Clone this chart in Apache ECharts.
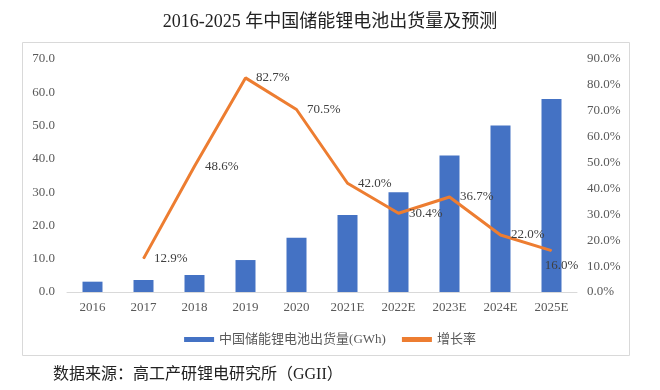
<!DOCTYPE html>
<html>
<head>
<meta charset="utf-8">
<script src="https://cdn.jsdelivr.net/npm/echarts@6/dist/echarts.min.js"></script>
<style>html,body{margin:0;padding:0;background:#fff}#c{width:660px;height:390px}</style>
</head>
<body>
<div id="c"></div>
<script>
const categories = ['2016','2017','2018','2019','2020','2021E','2022E','2023E','2024E','2025E'];
const shipments = [3.1, 3.6, 5.1, 9.6, 16.3, 23.1, 30.0, 41.0, 50.0, 58.0];
const growth = [null, 12.9, 48.6, 82.7, 70.5, 42.0, 30.4, 36.7, 22.0, 16.0];
const barName = '中国储能锂电池出货量(GWh)';
const lineName = '增长率';
const titleText = '2016-2025 年中国储能锂电池出货量及预测';
const sourceText = '数据来源：高工产研锂电研究所（GGII）';

const serif = "'Liberation Serif','Noto Sans CJK SC',serif";
const chart = echarts.init(document.getElementById('c'));
chart.setOption({
  animation: false,
  backgroundColor: '#fff',
  title: {
    text: titleText, left: 'center', top: 8,
    textStyle: {fontFamily: serif, fontSize: 18, fontWeight: 'normal', color: '#222'}
  },
  graphic: [
    {type: 'rect', shape: {x: 22.5, y: 42.5, width: 607, height: 313},
     style: {fill: 'none', stroke: '#d9d9d9', lineWidth: 1}, z: -1},
    {type: 'text', left: 53, top: 367,
     style: {text: sourceText, font: "16px 'Liberation Serif','Noto Sans CJK SC',serif", fill: '#222'}}
  ],
  legend: {
    top: 328, left: 'center', itemWidth: 30, itemHeight: 5, itemGap: 16,
    textStyle: {fontFamily: serif, fontSize: 13, color: '#595959'},
    data: [{name: barName, icon: 'rect'}, {name: lineName, icon: 'rect'}]
  },
  grid: {left: 67, right: 83, top: 59, bottom: 98},
  xAxis: {
    type: 'category', data: categories,
    axisLine: {lineStyle: {color: '#d9d9d9'}},
    axisTick: {show: false},
    axisLabel: {fontFamily: serif, fontSize: 13, color: '#595959', margin: 9}
  },
  yAxis: [
    {type: 'value', min: 0, max: 70, interval: 10, splitLine: {show: false},
     axisLabel: {fontFamily: serif, fontSize: 13, color: '#595959', margin: 12,
       formatter: v => v.toFixed(1)}},
    {type: 'value', min: 0, max: 90, interval: 10, splitLine: {show: false},
     axisLabel: {fontFamily: serif, fontSize: 13, color: '#595959', margin: 10,
       formatter: v => v.toFixed(1) + '%'}}
  ],
  series: [
    {name: barName, type: 'bar', data: shipments, barWidth: 20,
     itemStyle: {color: '#4472C4'}},
    {name: lineName, type: 'line', yAxisIndex: 1,
     data: growth.map((v, i) => i === growth.length - 1
       ? {value: v, label: {position: 'bottom', offset: [10, -2]}} : v),
     symbol: 'circle', symbolSize: 1, showSymbol: true,
     lineStyle: {color: '#ED7D31', width: 3}, itemStyle: {color: '#ED7D31'},
     label: {show: true, position: 'right', distance: 10,
       fontFamily: serif, fontSize: 13, color: '#404040',
       formatter: p => p.value == null ? '' : Number(p.value).toFixed(1) + '%'}}
  ]
});
</script>
</body>
</html>
